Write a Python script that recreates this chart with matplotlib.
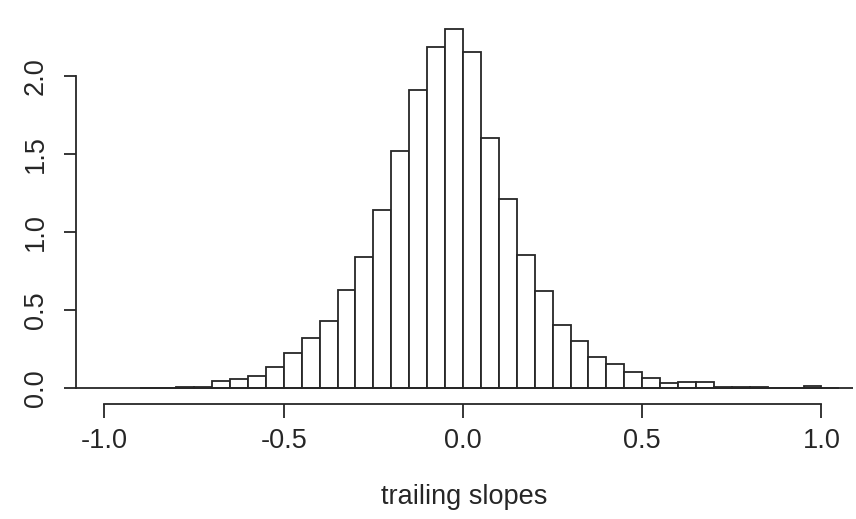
import numpy as np
import matplotlib
matplotlib.use('Agg')
import matplotlib.pyplot as plt

# histogram breaks (bin width 0.05) and density per bin
breaks = np.round(np.linspace(-0.9, 1.05, 40), 2)
density = [0.005, 0.005, 0.008, 0.012, 0.050, 0.064, 0.078, 0.135,
           0.230, 0.325, 0.430, 0.633, 0.846, 1.145, 1.520, 1.915,
           2.188, 2.306, 2.156, 1.607, 1.216, 0.857, 0.622, 0.410,
           0.306, 0.205, 0.154, 0.105, 0.069, 0.034, 0.040, 0.040,
           0.008, 0.008, 0.007, 0.005, 0.005, 0.015, 0.005]
x_ticks = [-1.0, -0.5, 0.0, 0.5, 1.0]
y_ticks = [0.0, 0.5, 1.0, 1.5, 2.0]
x_label = 'trailing slopes'

ink = '#262626'
plt.rcParams['font.family'] = ['Liberation Sans', 'DejaVu Sans']
plt.rcParams['font.size'] = 19.5

fig = plt.figure(figsize=(8.56, 5.19), dpi=100)
ax = fig.add_axes([76 / 856, 1 - 404 / 519, 777 / 856, 390 / 519])

widths = np.diff(breaks)
ax.bar(breaks[:-1], density, width=widths, align='edge',
       color='white', edgecolor=ink, linewidth=1.3)
ax.axhline(0, color=ink, linewidth=1.3)

ax.set_xlim(-1.0795, 1.088)
ax.set_ylim(-0.0994, 2.4006)

for side in ['top', 'right']:
    ax.spines[side].set_visible(False)
ax.spines['left'].set_bounds(0, 2)
ax.spines['bottom'].set_bounds(-1, 1)
for side in ['left', 'bottom']:
    ax.spines[side].set_color(ink)
    ax.spines[side].set_linewidth(1.3)

ax.set_xticks(x_ticks)
ax.set_xticklabels(['%.1f' % v for v in x_ticks])
ax.set_yticks(y_ticks)
ax.set_yticklabels(['%.1f' % v for v in y_ticks], rotation=90, va='center')
ax.tick_params(axis='x', direction='out', length=10, width=1.3, pad=7,
               color=ink, labelcolor=ink)
ax.tick_params(axis='y', direction='out', length=8.6, width=1.3, pad=11,
               color=ink, labelcolor=ink)

ax.set_xlabel(x_label, color=ink, labelpad=22)

fig.savefig('out.png', dpi=100)
